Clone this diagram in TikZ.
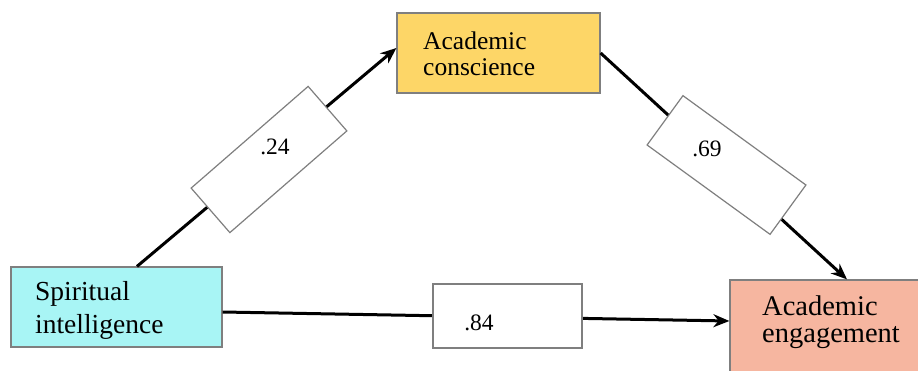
\documentclass[tikz,border=0pt]{standalone}
\usepackage{fontspec}
\setmainfont{Liberation Serif}
\usetikzlibrary{arrows.meta}
\definecolor{spcol}{HTML}{A8F5F5}
\definecolor{accol}{HTML}{FDD667}
\definecolor{aecol}{HTML}{F6B6A0}
\definecolor{bordcol}{HTML}{7F7F7F}
\tikzset{
  varbox/.style={draw=bordcol, line width=1.2pt, inner sep=0pt},
  coefbox/.style={draw=bordcol, line width=1.2pt, fill=white, inner sep=0pt},
  vartext/.style={anchor=west, align=left, inner sep=0pt},
  coeftext/.style={inner sep=0pt, font=\fontsize{23.5}{26}\selectfont},
  path/.style={line width=3pt, -{Stealth[length=16pt,width=13pt]}}
}
\begin{document}
\begin{tikzpicture}[x=1pt,y=-1pt]
\useasboundingbox (0,0) rectangle (918,370);
\clip (0,0) rectangle (918,370);
% variable boxes
\node[varbox, fill=spcol, minimum width=211pt, minimum height=80pt] (sp) at (116.5,307) {};
\node[varbox, fill=accol, minimum width=203pt, minimum height=80pt] (ac) at (498.5,53) {};
\node[varbox, fill=aecol, minimum width=200pt, minimum height=100pt] (ae) at (830,330) {};
% connectors
\draw[path] ([xshift=20.5pt]sp.north) -- ([yshift=5pt]ac.west);
\draw[path] (ac.east) -- ([xshift=17pt]ae.north);
\draw[path] ([yshift=-5pt]sp.east) -- ([yshift=9pt]ae.west);
% coefficient boxes
\node[coefbox, rotate=41, minimum width=155pt, minimum height=59pt] (c1) at (269,159.5) {};
\node[coefbox, rotate=-36, minimum width=152pt, minimum height=61pt] (c2) at (726.5,165) {};
\node[coefbox, minimum width=149pt, minimum height=64pt] (c3) at (507.5,316) {};
\node[coeftext] (t1) at (275,147) {.24};
\node[coeftext] (t2) at (707,149) {.69};
\node[coeftext] (t3) at (479,323) {.84};
% variable texts
\node[vartext, font=\fontsize{27.5}{33}\selectfont] (tsp) at (35,310) {Spiritual\\intelligence};
\node[vartext, font=\fontsize{25.5}{26}\selectfont] (tac) at (423,53.6) {Academic\\conscience};
\node[vartext, font=\fontsize{28.5}{27}\selectfont] (tae) at (762,322) {Academic\\engagement};
\end{tikzpicture}
\end{document}
